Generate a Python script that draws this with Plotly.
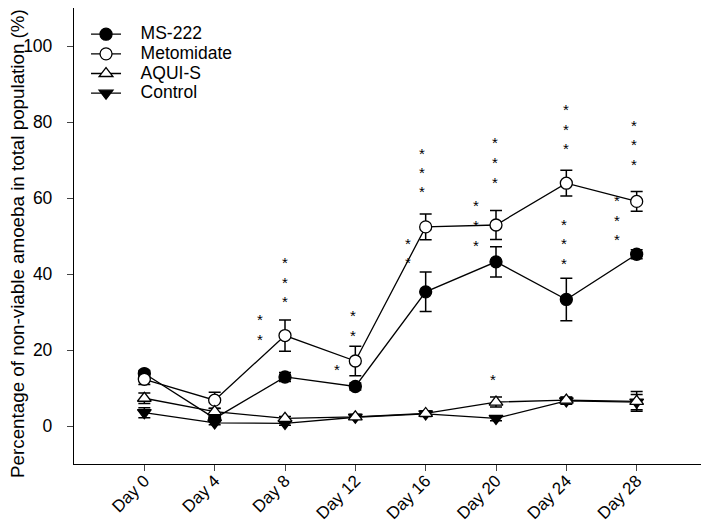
import plotly.graph_objects as go

days = [0, 4, 8, 12, 16, 20, 24, 28]
day_labels = ["Day 0", "Day 4", "Day 8", "Day 12", "Day 16", "Day 20", "Day 24", "Day 28"]

ms222 = [13.8, 2.0, 12.9, 10.4, 35.3, 43.2, 33.3, 45.2]
ms222_err = [0.8, 0.8, 1.2, 0.9, 5.2, 4.0, 5.6, 1.2]

metomidate = [12.3, 6.8, 23.8, 17.1, 52.4, 52.9, 63.9, 59.1]
metomidate_err = [1.4, 2.1, 4.1, 3.9, 3.4, 3.8, 3.4, 2.6]

aquis = [7.3, 3.8, 2.0, 2.4, 3.3, 6.3, 6.8, 6.5]
aquis_err = [1.4, 0.8, 0.5, 0.6, 0.6, 1.3, 0.8, 2.6]

control = [3.5, 0.8, 0.7, 2.3, 3.2, 2.0, 6.6, 6.3]
control_err = [1.3, 0.5, 0.5, 0.4, 0.7, 0.6, 0.9, 2.0]

# significance asterisks (day position, value)
star_x = [6.58, 6.58, 8.0, 8.0, 8.0,
          10.94, 11.89, 11.89,
          15.8, 15.8, 15.8, 14.98, 14.98,
          19.93, 19.93, 19.93, 18.89, 18.89, 18.89, 19.82,
          23.97, 23.97, 23.97, 23.87, 23.87, 23.87,
          27.87, 27.87, 27.87, 26.9, 26.9, 26.9]
star_y = [28.7, 23.5, 43.7, 38.4, 33.3,
          15.4, 29.7, 24.4,
          72.5, 67.5, 62.5, 48.8, 43.6,
          75.2, 69.9, 64.8, 58.6, 53.3, 48.1, 12.9,
          84.0, 78.7, 73.6, 53.8, 48.7, 43.3,
          79.8, 74.7, 69.5, 59.9, 54.7, 49.7]

y_title = "Percentage of non-viable amoeba in total population (%)"

FONT = "Liberation Sans, Arial, sans-serif"
NBSP = "\u00a0"

fig = go.Figure()

def add_series(name, y, err, symbol, fill, rank):
    fig.add_trace(go.Scatter(
        x=days, y=y, mode="lines+markers", legendrank=rank,
        name='<span style="font-size:17.5px">' + NBSP * 3 + name + '</span>',
        line=dict(color="black", width=1.3),
        marker=dict(symbol=symbol, size=12, color=fill,
                    line=dict(color="black", width=1.3)),
        error_y=dict(type="data", array=err, visible=True,
                     color="black", thickness=1.5, width=6),
    ))

add_series("Control", control, control_err, "triangle-down", "black", 4)
add_series("MS-222", ms222, ms222_err, "circle", "black", 1)
add_series("Metomidate", metomidate, metomidate_err, "circle", "white", 2)
add_series("AQUI-S", aquis, aquis_err, "triangle-up", "white", 3)

for sx, sy in zip(star_x, star_y):
    fig.add_annotation(x=sx, y=sy, xref="x", yref="y", text="*",
                       showarrow=False, yshift=-2.5,
                       font=dict(family=FONT, size=15, color="black"))

# y-axis title as rotated text
fig.add_annotation(x=0, y=0.4825, xref="paper", yref="paper", text=y_title,
                   showarrow=False, textangle=-90, xanchor="center",
                   yanchor="middle", xshift=-56,
                   font=dict(family=FONT, size=18.8, color="black"))

fig.update_layout(
    width=701, height=514,
    margin=dict(l=66, r=2, t=0, b=58, autoexpand=False),
    paper_bgcolor="white", plot_bgcolor="white",
    font=dict(family=FONT, size=17, color="black"),
    showlegend=True,
    legend=dict(x=0.019, y=0.975, xanchor="left", yanchor="top",
                bgcolor="rgba(0,0,0,0)", borderwidth=0,
                font=dict(size=12.8), tracegroupgap=0),
    xaxis=dict(
        range=[-4, 32], tickmode="array", tickvals=days, ticktext=day_labels,
        tickangle=-45, ticks="outside", ticklen=6, tickwidth=1.3,
        ticklabelstandoff=-7,
        showline=True, linecolor="black", linewidth=1.3, mirror=True,
        showgrid=False, zeroline=False, tickfont=dict(size=17),
        automargin=False,
    ),
    yaxis=dict(
        range=[-10, 110], tickmode="array", tickvals=[0, 20, 40, 60, 80, 100],
        ticks="outside", ticklen=6, tickwidth=1.3, ticklabelstandoff=11,
        showline=True, linecolor="black", linewidth=1.3, mirror=True,
        showgrid=False, zeroline=False, tickfont=dict(size=17.5),
        automargin=False,
    ),
)

fig.write_html("out.html")
